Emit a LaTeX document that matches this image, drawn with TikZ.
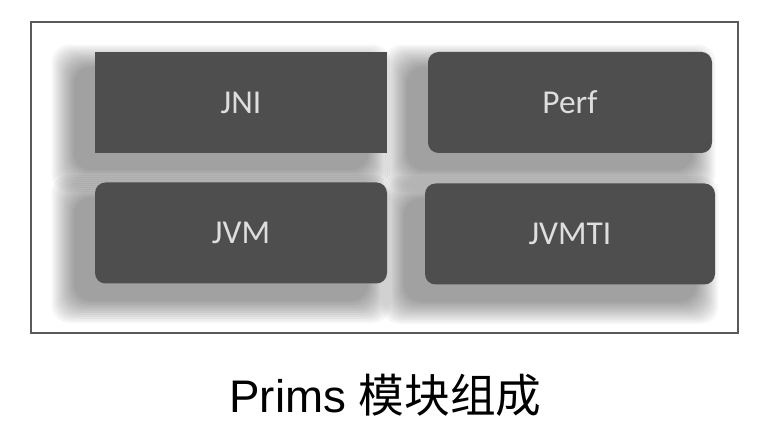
\documentclass[tikz,border=0pt]{standalone}
\usepackage{fontspec}
\setmainfont{Liberation Sans}
\newfontfamily\boxfont{Carlito}
\newfontfamily\cjk{Noto Sans CJK SC}
\usepackage{xcolor}
\definecolor{boxdark}{RGB}{78,78,78}
\definecolor{boxtext}{RGB}{222,222,222}
\definecolor{framegray}{RGB}{90,90,90}
\usetikzlibrary{backgrounds}

\tikzset{
  modbox/.style={fill=boxdark, draw=none, text=boxtext, rounded corners=6pt,
    minimum height=2.02cm, font=\boxfont\fontsize{19}{21}\selectfont},
}

\begin{document}
\begin{tikzpicture}
  \useasboundingbox (0,0) rectangle (15.36,8.96);

  % Frame
  \draw[framegray, line width=0.9pt] (0.62,2.30) rectangle (14.76,8.52);

  % --- Modules ---
  \node[modbox, sharp corners, minimum width=5.84cm] (jni)   at (4.82,6.91)  {JNI};
  \node[modbox, minimum width=5.68cm]                (perf)  at (11.40,6.91) {Perf};
  \node[modbox, minimum width=5.84cm]                (jvm)   at (4.82,4.30)  {JVM};
  \node[modbox, minimum width=5.80cm]                (jvmti) at (11.40,4.28) {JVMTI};

  % Soft shadows
  \begin{scope}[on background layer]
    \fill[white] (0,0) rectangle (15.36,8.96);
    \foreach \n in {jni,perf,jvm,jvmti}
      \foreach \r in {0.02,0.06,...,0.46}
        \fill[black, opacity=0.035, rounded corners=10pt]
          ([shift={(-0.40-\r,-0.32-\r)}]\n.south west) rectangle ([shift={(-0.40+\r,-0.32+\r)}]\n.north east);
  \end{scope}

  % Caption
  \node[anchor=base, font=\fontsize{26}{29}\selectfont] (caption) at (7.71,0.70) {Prims {\cjk 模块组成}};
\end{tikzpicture}
\end{document}
